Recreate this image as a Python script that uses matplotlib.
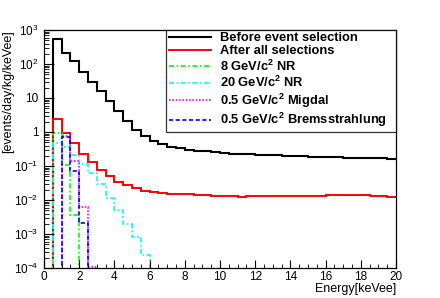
import numpy as np
import matplotlib
matplotlib.use("Agg")
import matplotlib.pyplot as plt
from matplotlib.ticker import FixedLocator, FixedFormatter, MultipleLocator

plt.rcParams["font.family"] = ["Liberation Sans", "DejaVu Sans"]
plt.rcParams["mathtext.default"] = "regular"

# bin edges in keVee, 0.5 keV bins
edges = np.arange(0, 20.01, 0.5)

# before event selection (one value per bin)
before_sel = [0, 530, 205, 120, 57, 29.5, 16, 8, 4.1, 2.1,
              1.15, 0.75, 0.55, 0.44, 0.37, 0.33, 0.30, 0.285, 0.27, 0.255,
              0.24, 0.232, 0.226, 0.22, 0.214, 0.209, 0.204, 0.20, 0.196, 0.192,
              0.189, 0.186, 0.183, 0.180, 0.177, 0.175, 0.172, 0.170, 0.168, 0.166]

# after all selections
after_sel = [0, 2.4, 0.95, 0.46, 0.23, 0.134, 0.076, 0.052, 0.035, 0.028,
             0.022, 0.0187, 0.017, 0.016, 0.0155, 0.015, 0.0148, 0.0142, 0.0136, 0.0132,
             0.0128, 0.0127, 0.0126, 0.0127, 0.0129, 0.0131, 0.0132, 0.0133, 0.0133, 0.0134,
             0.0132, 0.0135, 0.0137, 0.0138, 0.0139, 0.014, 0.014, 0.0129, 0.0127, 0.0125]

# signal spectra, first bins only (rest are empty)
nr_8gev = [0, 0.95, 0.11, 0.0036]
nr_20gev = [0, 0.48, 0.37, 0.21, 0.115, 0.062, 0.030, 0.0118, 0.0052, 0.002, 0.0008, 0.00024]
migdal = [0, 0, 0.76, 0.14, 0.0063, 0.00011]
brems = [0, 0, 0.69, 0.071, 0.0021]

labels = ["Before event selection", "After all selections",
          "8 GeV/c$^{2}$ NR", "20 GeV/c$^{2}$ NR",
          "0.5 GeV/c$^{2}$ Migdal", "0.5 GeV/c$^{2}$ Bremsstrahlung"]

ytick_vals = [1e-4, 1e-3, 1e-2, 1e-1, 1, 10, 1e2, 1e3]
ytick_txt = ["$10^{-4}$", "$10^{-3}$", "$10^{-2}$", "$10^{-1}$", "1", "10", "$10^{2}$", "$10^{3}$"]


def full(vals):
    v = np.zeros(len(edges) - 1)
    v[:len(vals)] = vals
    # empty bins go below the axis, like ROOT does on log scale
    return np.clip(v, 1e-7, None)


fig = plt.figure(figsize=(4.4, 2.98), dpi=100)
ax = fig.add_axes([44 / 440, 30 / 298, 352 / 440, 238 / 298])

ax.stairs(full(before_sel), edges, baseline=None, color="black", lw=1.5, label=labels[0])
ax.stairs(full(after_sel), edges, baseline=None, color="#ff0000", lw=1.4, label=labels[1])
ax.stairs(full(nr_8gev), edges, baseline=None, color="#00ff00", lw=1.2, ls=(0, (3, 1.5, 1, 1.5)), label=labels[2])
ax.stairs(full(nr_20gev), edges, baseline=None, color="#00ffff", lw=1.2, ls=(0, (3, 1.5, 1, 1.5)), label=labels[3])
ax.stairs(full(migdal), edges, baseline=None, color="#ff00ff", lw=1.2, ls=(0, (1, 1)), label=labels[4])
ax.stairs(full(brems), edges, baseline=None, color="#0000ff", lw=1.2, ls=(0, (2.5, 1.5)), label=labels[5])

ax.set_yscale("log")
ax.set_xlim(0, 20)
ax.set_ylim(1e-4, 1e3)

ax.xaxis.set_major_locator(MultipleLocator(2))
ax.xaxis.set_minor_locator(MultipleLocator(0.5))
ax.yaxis.set_major_locator(FixedLocator(ytick_vals))
ax.yaxis.set_major_formatter(FixedFormatter(ytick_txt))
ax.tick_params(which="both", direction="in", top=False, right=False, labelsize=8.5)
ax.tick_params(axis="x", which="major", length=6, pad=2)
ax.tick_params(axis="x", which="minor", length=3)
ax.tick_params(axis="y", which="major", length=7, pad=4)
ax.tick_params(axis="y", which="minor", length=3.5)
for s in ax.spines.values():
    s.set_linewidth(0.9)

ax.set_xlabel("Energy[keVee]", fontsize=9, loc="right")
ax.xaxis.set_label_coords(1.0, -0.062)
ax.set_ylabel("[events/day/kg/keVee]", fontsize=9, loc="top")
ax.yaxis.set_label_coords(-0.085, 1.0)

leg = ax.legend(loc="upper left", bbox_to_anchor=(0.347, 0.592, 0.653, 0.41), mode="expand",
                prop={"weight": "bold", "size": 9.3}, frameon=True, fancybox=False,
                handlelength=3.3, handletextpad=0.7, labelspacing=0.1, borderpad=0.2,
                borderaxespad=0)
leg.get_frame().set_edgecolor("black")
leg.get_frame().set_linewidth(0.9)

fig.savefig("out.png", dpi=100)
